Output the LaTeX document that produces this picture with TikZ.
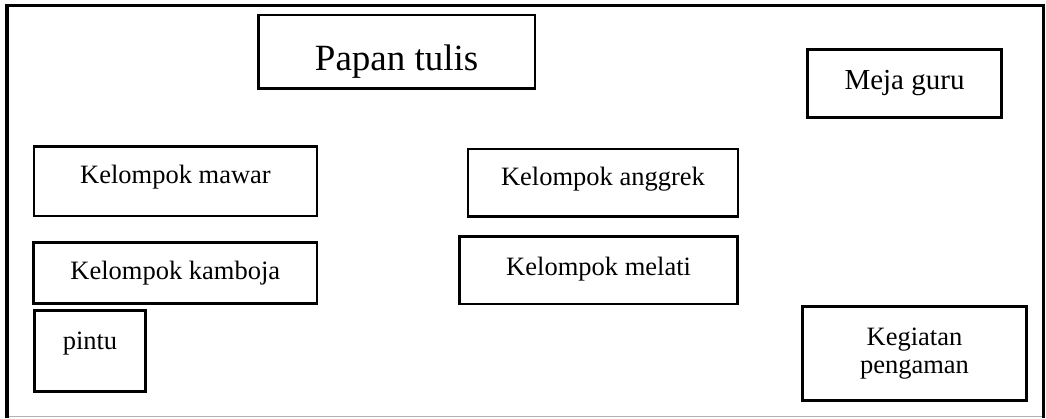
\documentclass[tikz,border=0pt]{standalone}
\usepackage{fontspec}
\setmainfont{Liberation Serif}
\begin{document}
\begin{tikzpicture}[x=1pt,y=-1pt,
  box/.style={draw=black,line width=2.6pt,inner sep=0pt,outer sep=0pt,anchor=north west},
  lbl/.style={anchor=base,inner sep=0pt,font=\fontsize{26.5}{28.3}\selectfont},
  frame/.style={draw=black,line width=3.6pt}]
\useasboundingbox (0,0) rectangle (1046,418);
% room outline
\draw[draw=black!30,line width=1.5pt] (7,416.6) -- (1043.5,416.6);
\draw[frame] (7,418) -- (7,5.5) -- (1043.5,5.5) -- (1043.5,418);
% furniture and groups (boxes placed by their top-left corner)
\node[box,minimum width=276.7pt,minimum height=73.3pt] (papan) at (258.3,15) {};
\node[lbl,font=\fontsize{37}{40}\selectfont] (papanT) at (papan.center |- 0,70) {Papan tulis};
\node[box,minimum width=194.4pt,minimum height=68pt] (meja) at (807.3,49.3) {};
\node[lbl,font=\fontsize{29}{32}\selectfont] (mejaT) at (meja.center |- 0,89.3) {Meja guru};
\node[box,minimum width=283pt,minimum height=69.3pt] (mawar) at (34,146.7) {};
\node[lbl] (mawarT) at (mawar.center |- 0,183.3) {Kelompok mawar};
\node[box,minimum width=270pt,minimum height=67.7pt] (anggrek) at (468,149) {};
\node[lbl] (anggrekT) at (anggrek.center |- 0,185) {Kelompok anggrek};
\node[box,minimum width=283.5pt,minimum height=60.8pt] (kamboja) at (33.5,242.7) {};
\node[lbl] (kambojaT) at (kamboja.center |- 0,279.3) {Kelompok kamboja};
\node[box,minimum width=278.2pt,minimum height=67.3pt] (melati) at (459.5,236.7) {};
\node[lbl] (melatiT) at (melati.center |- 0,275) {Kelompok melati};
\node[box,minimum width=111.4pt,minimum height=81pt] (pintu) at (34.3,310.7) {};
\node[lbl] (pintuT) at (pintu.center |- 0,349) {pintu};
\node[box,minimum width=224.4pt,minimum height=94pt] (kegiatan) at (802.3,306.7) {};
\node[lbl] (kegiatanT) at (kegiatan.center |- 0,345) {Kegiatan};
\node[lbl] (pengamanT) at (kegiatan.center |- 0,373.3) {pengaman};
\end{tikzpicture}
\end{document}
